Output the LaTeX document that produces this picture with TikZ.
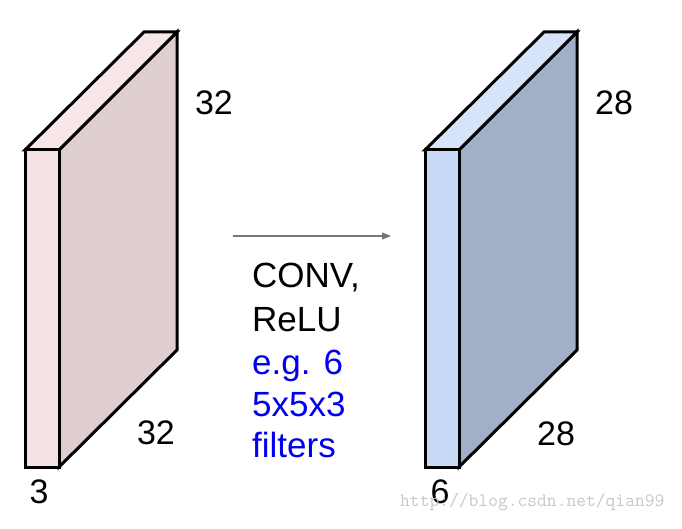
\documentclass[tikz,border=0pt]{standalone}
\usepackage{fontspec}
\setmainfont{Liberation Sans}
\usetikzlibrary{arrows.meta}
\definecolor{pinkfront}{HTML}{F5E3E3}
\definecolor{pinktop}{HTML}{F7E7E7}
\definecolor{pinkside}{HTML}{DECECE}
\definecolor{bluefront}{HTML}{C9DAF6}
\definecolor{bluetop}{HTML}{D6E3F8}
\definecolor{blueside}{HTML}{A2B0C7}
\definecolor{arrowgray}{HTML}{777777}
\definecolor{wmgray}{HTML}{C8C8C8}
\definecolor{txtblue}{HTML}{0000F0}
\begin{document}
\begin{tikzpicture}[x=1pt,y=-1pt,
  face/.style={draw=black,line width=3pt,line join=miter},
  dimlabel/.style={font=\fontsize{34}{36}\selectfont,inner sep=0pt},
  oplabel/.style={font=\fontsize{35}{40}\selectfont,inner sep=0pt,anchor=base west},
  flow/.style={draw=arrowgray,line width=1.2pt,-{Triangle[length=9pt,width=7pt]}}]
\useasboundingbox (0,0) rectangle (682,529);
% left volume
\begin{scope}
\filldraw[face,fill=pinkside] (59,150) -- (177,32) -- (177,350) -- (59,467) -- cycle;
\filldraw[face,fill=pinktop] (25,150) -- (144,32) -- (177,32) -- (59,150) -- cycle;
\filldraw[face,fill=pinkfront] (25,150) rectangle (59,467);
\end{scope}
% right volume
\begin{scope}[xshift=400pt]
\filldraw[face,fill=blueside] (59,150) -- (177,32) -- (177,350) -- (59,467) -- cycle;
\filldraw[face,fill=bluetop] (25,150) -- (144,32) -- (177,32) -- (59,150) -- cycle;
\filldraw[face,fill=bluefront] (25,150) rectangle (59,467);
\end{scope}
% labels
\node[dimlabel] (l32a) at (214,103) {32};
\node[dimlabel] (l32b) at (156,433) {32};
\node[dimlabel] (l3) at (39,492) {3};
\node[dimlabel] (r28a) at (614,103) {28};
\node[dimlabel] (r28b) at (556,434) {28};
\node[dimlabel] (r6) at (440,492) {6};
% arrow
\coordinate (arrS) at (233,236);
\coordinate (arrE) at (391,236);
\draw[flow] (arrS) -- (arrE);
% operation text
\node[oplabel] (t1) at (252,287) {CONV,};
\node[oplabel] (t2) at (252,331) {ReLU};
\node[oplabel,text=txtblue] (t3) at (252,374) {e.g. 6};
\node[oplabel,text=txtblue] (t4) at (252,416) {5x5x3};
\node[oplabel,text=txtblue] (t5) at (252,457) {filters};
% watermark
\node[font=\ttfamily\fontsize{19}{20}\selectfont,text=wmgray,inner sep=0pt,anchor=base west] (wm) at (400,506) {http://blog.csdn.net/qian99};
\end{tikzpicture}
\end{document}
